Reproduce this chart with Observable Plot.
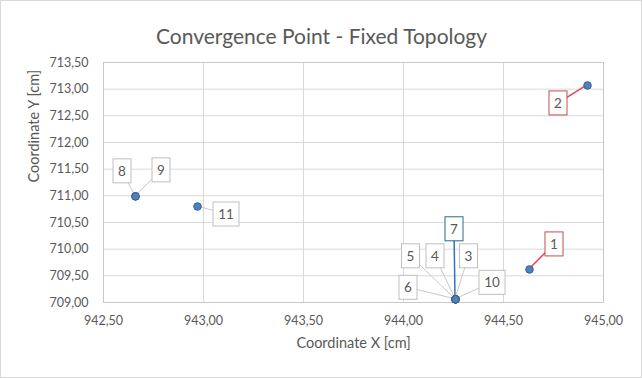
<!DOCTYPE html>
<html>
<head>
<meta charset="utf-8">
<script src="https://cdn.jsdelivr.net/npm/d3@7"></script>
<script src="https://cdn.jsdelivr.net/npm/@observablehq/plot@0.6"></script>
<style>
  html, body { margin: 0; padding: 0; background: #fff; }
  #chart { position: relative; width: 642px; height: 378px; overflow: hidden; }
  #chart .border { position: absolute; left: 0; top: 0; right: 0; bottom: 0; border: 1px solid #d9d9d9; pointer-events: none; }
</style>
</head>
<body>
<div id="chart"></div>
<script>
// ---- data ----
const pointLabels = ["1", "2", "3", "4", "5", "6", "7", "8", "9", "10", "11"];
const coordX = [944.63, 944.92, 944.26, 944.26, 944.26, 944.26, 944.26, 942.66, 942.66, 944.26, 942.97];
const coordY = [709.62, 713.07, 709.06, 709.06, 709.06, 709.06, 709.06, 710.99, 710.99, 709.06, 710.80];
const xTicks = [942.5, 943.0, 943.5, 944.0, 944.5, 945.0];
const yTicks = [709.0, 709.5, 710.0, 710.5, 711.0, 711.5, 712.0, 712.5, 713.0, 713.5];
const titleText = "Convergence Point - Fixed Topology";
const xTitle = "Coordinate X [cm]";
const yTitle = "Coordinate Y [cm]";

const points = pointLabels.map((label, i) => ({label, x: coordX[i], y: coordY[i]}));

// ---- callout layout (pixel offsets of label box centre from its point) ----
const calloutOffset = {
  "1": [25, -25], "2": [-29, 18], "3": [13.5, -43], "4": [-20, -43],
  "5": [-44.5, -43], "6": [-47, -11.5], "7": [-1, -70], "8": [-13, -25],
  "9": [26, -26], "10": [37, -16.5], "11": [29, 8]
};
const calloutStyle = {
  "1": {box: "#c0504d", line: "#e8415f"},
  "2": {box: "#c0504d", line: "#e8415f"},
  "7": {box: "#1f6f8b", line: "#2e75b6"}
};
const defaultStyle = {box: "#bfbfbf", line: "#c8c8c8"};
const fmt = d => d.toFixed(2).replace(".", ",");
const FONT = "Lato, 'Open Sans', sans-serif";
const TEXT = "#595959";

function styleOf(l) { return calloutStyle[l] || defaultStyle; }

// leader lines, drawn with the plot's scales
function leaderMark(index, scales) {
  const g = d3.create("svg:g");
  const order = points.slice().sort((a, b) => (calloutStyle[a.label] ? 1 : 0) - (calloutStyle[b.label] ? 1 : 0));
  for (const p of order) {
    const px = scales.x(p.x), py = scales.y(p.y);
    const [dx, dy] = calloutOffset[p.label];
    const s = styleOf(p.label);
    g.append("line")
      .attr("x1", px).attr("y1", py)
      .attr("x2", px + dx).attr("y2", py + dy)
      .attr("stroke", s.line)
      .attr("stroke-width", calloutStyle[p.label] ? 1.5 : 1);
  }
  return g.node();
}

// label boxes
function boxMark(index, scales) {
  const g = d3.create("svg:g");
  for (const p of points) {
    const px = scales.x(p.x), py = scales.y(p.y);
    const [dx, dy] = calloutOffset[p.label];
    const s = styleOf(p.label);
    const w = p.label.length > 1 ? 26 : 18, h = 24;
    const cx = px + dx, cy = py + dy;
    g.append("rect")
      .attr("x", cx - w / 2).attr("y", cy - h / 2)
      .attr("width", w).attr("height", h)
      .attr("fill", "#fff").attr("stroke", s.box).attr("stroke-width", 1);
    g.append("text")
      .attr("x", cx).attr("y", cy)
      .attr("text-anchor", "middle").attr("dy", "0.35em")
      .attr("font-family", FONT).attr("font-size", 13.5)
      .attr("fill", TEXT)
      .text(p.label);
  }
  return g.node();
}

const plot = Plot.plot({
  width: 642,
  height: 378,
  marginLeft: 103,
  marginRight: 39,
  marginTop: 62,
  marginBottom: 76,
  style: {fontFamily: FONT, fontSize: "12.5px", color: TEXT, background: "#fff"},
  x: {domain: [942.5, 945], label: null},
  y: {domain: [709, 713.5], label: null},
  marks: [
    Plot.gridX(xTicks, {stroke: "#d9d9d9", strokeOpacity: 1}),
    Plot.gridY(yTicks, {stroke: "#d9d9d9", strokeOpacity: 1}),
    Plot.frame({stroke: "#c8c8c8"}),
    Plot.axisX(xTicks, {tickSize: 0, tickPadding: 14, tickFormat: fmt, label: null, fontSize: 12.5}),
    Plot.axisY(yTicks, {tickSize: 0, tickPadding: 15, tickFormat: fmt, label: null, fontSize: 12.5}),
    leaderMark,
    Plot.dot(points, {x: "x", y: "y", r: 3.8, fill: "#4f81bd", stroke: "#385d8a", strokeWidth: 1}),
    boxMark,
    Plot.text([titleText], {frameAnchor: "top", dx: -32, dy: -33, fontSize: 21, fill: TEXT, text: d => d}),
    Plot.text([xTitle], {frameAnchor: "bottom", dy: 45, fontSize: 14.5, fill: TEXT, text: d => d}),
    Plot.text([yTitle], {frameAnchor: "left", dx: -69, rotate: -90, fontSize: 14.5, fill: TEXT, text: d => d})
  ]
});

const chart = document.getElementById("chart");
chart.appendChild(plot);
const b = document.createElement("div");
b.className = "border";
chart.appendChild(b);
</script>
</body>
</html>
